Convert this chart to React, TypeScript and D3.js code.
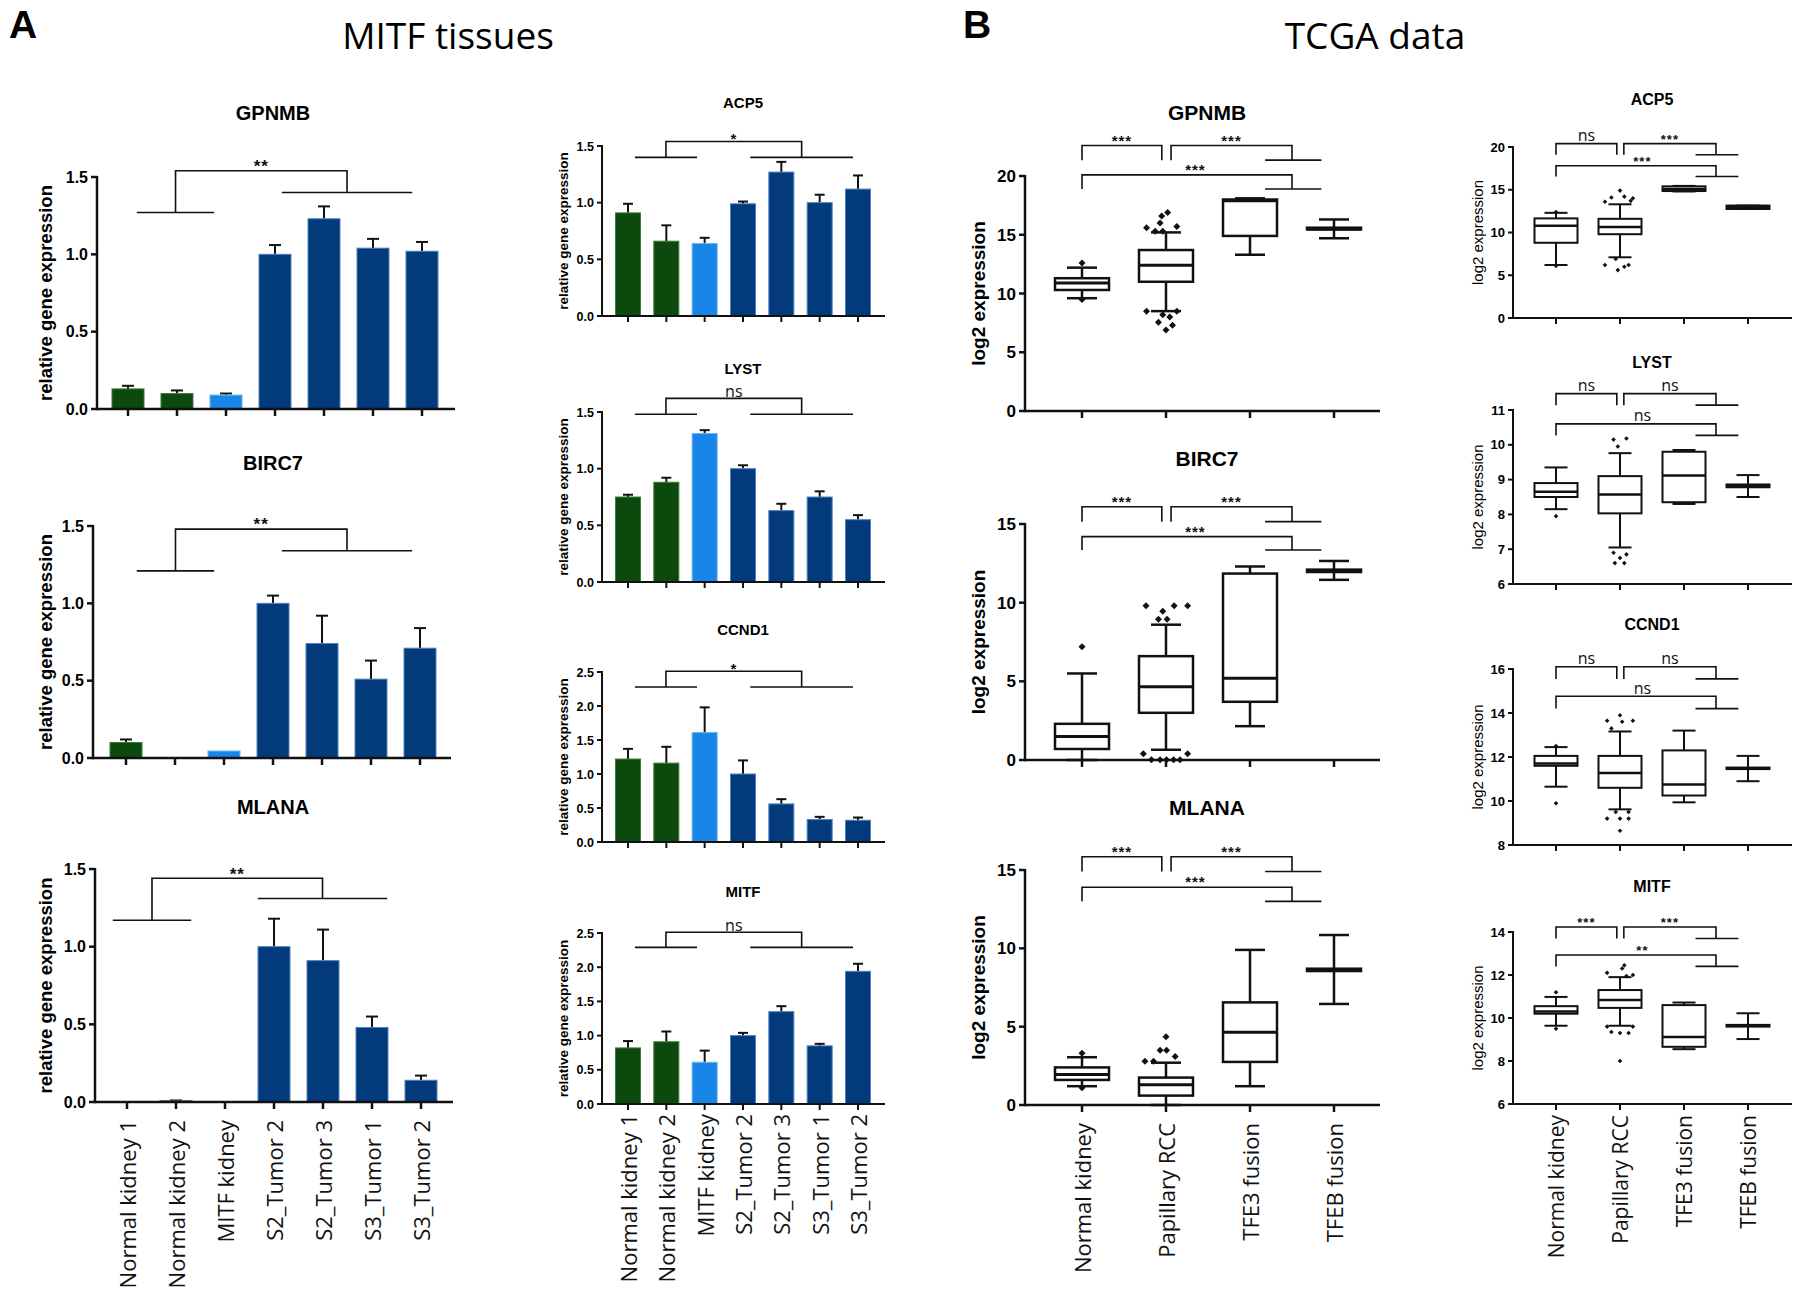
import React from "react";
import * as d3 from "d3";

// ---------- DATA ----------
const tissueSamples = ["Normal kidney 1", "Normal kidney 2", "MITF kidney", "S2_Tumor 2", "S2_Tumor 3", "S3_Tumor 1", "S3_Tumor 2"];
const sampleKind = ["normal", "normal", "mitf", "tumor", "tumor", "tumor", "tumor"];

const gpnmbMean = [0.13, 0.10, 0.09, 1.00, 1.23, 1.04, 1.02];
const gpnmbErr = [0.02, 0.02, 0.01, 0.06, 0.08, 0.06, 0.06];
const birc7Mean = [0.10, 0.0, 0.045, 1.00, 0.74, 0.51, 0.71];
const birc7Err = [0.02, 0.0, 0.0, 0.05, 0.18, 0.12, 0.13];
const mlanaMean = [0.003, 0.008, 0.003, 1.00, 0.91, 0.48, 0.14];
const mlanaErr = [0.0, 0.002, 0.0, 0.18, 0.20, 0.07, 0.03];
const acp5Mean = [0.91, 0.66, 0.64, 0.99, 1.27, 1.00, 1.12];
const acp5Err = [0.08, 0.14, 0.05, 0.02, 0.09, 0.07, 0.12];
const lystMean = [0.75, 0.88, 1.31, 1.00, 0.63, 0.75, 0.55];
const lystErr = [0.02, 0.04, 0.03, 0.03, 0.06, 0.05, 0.04];
const ccnd1Mean = [1.22, 1.16, 1.61, 1.00, 0.56, 0.33, 0.32];
const ccnd1Err = [0.15, 0.24, 0.37, 0.20, 0.07, 0.04, 0.04];
const mitfMean = [0.82, 0.91, 0.61, 1.00, 1.35, 0.85, 1.94];
const mitfErr = [0.10, 0.15, 0.17, 0.04, 0.08, 0.03, 0.11];

// significance brackets for tissue bars (sample-index units, data-unit levels)
const gpnmbSig = { left: [0.18, 1.76], right: [3.14, 5.8], leftY: 1.27, rightY: 1.40, topY: 1.54, label: "**" };
const birc7Sig = { left: [0.22, 1.8], right: [3.18, 5.84], leftY: 1.21, rightY: 1.34, topY: 1.48, label: "**" };
const mlanaSig = { left: [-0.29, 1.31], right: [2.67, 5.31], leftY: 1.17, rightY: 1.31, topY: 1.44, label: "**" };
const acp5Sig = { left: [0.18, 1.8], right: [3.19, 5.87], leftY: 1.40, rightY: 1.40, topY: 1.54, label: "*" };
const lystSig = { left: [0.18, 1.8], right: [3.19, 5.87], leftY: 1.48, rightY: 1.48, topY: 1.62, label: "ns" };
const ccnd1Sig = { left: [0.18, 1.8], right: [3.19, 5.87], leftY: 2.28, rightY: 2.28, topY: 2.51, label: "*" };
const mitfSig = { left: [0.18, 1.8], right: [3.19, 5.87], leftY: 2.29, rightY: 2.29, topY: 2.51, label: "ns" };

const tcgaGroups = ["Normal kidney", "Papillary RCC", "TFE3 fusion", "TFEB fusion"];

// box stats: [whiskerLow, q1, median, q3, whiskerHigh]
const gpnmbBox = [[9.6, 10.3, 10.9, 11.3, 12.2], [8.5, 11.0, 12.4, 13.7, 15.2], [13.3, 14.9, 17.9, 18.0, 18.1], [14.7, 15.45, 15.5, 15.6, 16.3]];
const birc7Box = [[0.0, 0.7, 1.5, 2.3, 5.5], [0.65, 3.0, 4.65, 6.6, 8.6], [2.15, 3.7, 5.2, 11.85, 12.3], [11.45, 11.95, 12.03, 12.1, 12.65]];
const mlanaBox = [[1.2, 1.6, 1.95, 2.4, 3.05], [0.0, 0.6, 1.3, 1.75, 2.7], [1.2, 2.75, 4.65, 6.55, 9.9], [6.45, 8.55, 8.62, 8.7, 10.85]];
const acp5Box = [[6.2, 8.8, 10.8, 11.65, 12.3], [7.1, 9.8, 10.65, 11.6, 13.3], [14.8, 14.85, 15.1, 15.4, 15.45], [12.75, 12.75, 12.95, 13.15, 13.15]];
const lystBox = [[8.15, 8.5, 8.65, 8.9, 9.35], [7.05, 8.03, 8.57, 9.1, 9.76], [8.3, 8.35, 9.12, 9.8, 9.85], [8.5, 8.78, 8.82, 8.86, 9.13]];
const ccnd1Box = [[10.65, 11.6, 11.7, 12.05, 12.45], [9.62, 10.6, 11.27, 12.05, 13.16], [9.94, 10.25, 10.75, 12.3, 13.2], [10.9, 11.45, 11.48, 11.52, 12.05]];
const mitfBox = [[9.64, 10.2, 10.3, 10.55, 10.98], [9.64, 10.47, 10.84, 11.3, 11.9], [8.55, 8.66, 9.12, 10.6, 10.72], [9.02, 9.6, 9.64, 9.68, 10.22]];

// outliers: [groupIndex, value, horizontal spread as fraction of box width]
const gpnmbOut = [[0, 12.6, 0], [0, 9.5, 0], [1, 16.9, 0.03], [1, 16.6, -0.08], [1, 16.0, -0.11], [1, 15.6, -0.36], [1, 15.7, 0.2], [1, 15.3, -0.2], [1, 15.3, -0.06], [1, 8.5, -0.36], [1, 8.5, 0.2], [1, 8.2, -0.06], [1, 8.0, 0.07], [1, 7.55, -0.14], [1, 7.3, 0.12], [1, 6.9, 0]];
const birc7Out = [[0, 7.2, 0], [1, 9.8, -0.37], [1, 9.8, 0.15], [1, 9.8, 0.4], [1, 9.45, -0.06], [1, 8.95, -0.14], [1, 8.95, 0.02], [1, 0.4, -0.42], [1, 0.4, 0.4], [1, 0.02, -0.27], [1, 0.02, -0.11], [1, 0.02, 0.01], [1, 0.02, 0.14], [1, 0.02, 0.26]];
const mlanaOut = [[0, 3.3, 0], [0, 1.1, 0], [1, 2.8, -0.39], [1, 2.8, -0.23], [1, 3.1, 0.17], [1, 3.5, -0.11], [1, 3.5, 0.01], [1, 4.35, 0]];
const acp5Out = [[0, 12.4, 0], [0, 6.1, 0], [1, 14.9, 0], [1, 14.1, -0.2], [1, 14.2, 0.1], [1, 14.0, 0.3], [1, 13.6, -0.35], [1, 13.7, 0.25], [1, 6.9, -0.1], [1, 6.2, -0.35], [1, 6.2, 0.2], [1, 6.0, 0.1], [1, 5.6, -0.05]];
const lystOut = [[0, 7.95, 0], [1, 10.15, -0.15], [1, 10.18, 0.15], [1, 9.95, -0.05], [1, 6.9, -0.15], [1, 6.85, 0.15], [1, 6.75, 0], [1, 6.6, -0.12], [1, 6.6, 0.1]];
const ccnd1Out = [[0, 9.9, 0], [0, 12.5, 0], [1, 13.9, 0], [1, 13.65, -0.3], [1, 13.6, 0.05], [1, 13.65, 0.3], [1, 13.3, -0.2], [1, 9.5, -0.1], [1, 9.5, 0.2], [1, 9.2, -0.3], [1, 9.2, 0], [1, 9.2, 0.2], [1, 8.65, 0]];
const mitfOut = [[0, 11.2, 0], [0, 9.5, 0], [1, 12.45, 0.1], [1, 12.3, 0.05], [1, 12.1, -0.3], [1, 12.0, 0.3], [1, 11.95, 0.15], [1, 9.35, -0.2], [1, 9.3, 0], [1, 9.3, 0.2], [1, 9.6, -0.3], [1, 9.6, 0.3], [1, 8.0, 0]];

// TCGA brackets: [bracket1 top, bracket1 legs, bracket3 top, bracket3 legs] in data units
const gpnmbTcgaSig = { levels: [22.6, 21.35, 20.1, 18.9], labels: ["***", "***", "***"] };
const birc7TcgaSig = { levels: [16.1, 15.15, 14.2, 13.35], labels: ["***", "***", "***"] };
const mlanaTcgaSig = { levels: [15.85, 14.9, 13.9, 13.0], labels: ["***", "***", "***"] };
const acp5TcgaSig = { levels: [20.4, 19.1, 17.8, 16.55], labels: ["ns", "***", "***"] };
const lystTcgaSig = { levels: [11.47, 11.14, 10.6, 10.27], labels: ["ns", "ns", "ns"] };
const ccnd1TcgaSig = { levels: [16.1, 15.55, 14.76, 14.2], labels: ["ns", "ns", "ns"] };
const mitfTcgaSig = { levels: [14.23, 13.7, 12.93, 12.4], labels: ["***", "***", "**"] };
const tcgaBracketX = { b1L: 0, b1R: 0.95, b2L: 1.06, joint: 2.5, grpL: 2.18, grpR: 2.85, b3Label: 1.35 };

// ---------- STYLE ----------
const COLORS: Record<string, { fill: string; edge: string }> = {
  normal: { fill: "#0b4a0c", edge: "#3f7a3a" },
  mitf: { fill: "#1786e8", edge: "#6cb4f2" },
  tumor: { fill: "#033a7b", edge: "#4f82c2" },
};
const BOLD = "'Liberation Sans', Arial, sans-serif";
const HUMAN = "'Open Sans', 'Noto Sans', sans-serif";

type SigA = { left: number[]; right: number[]; leftY: number; rightY: number; topY: number; label: string };

function SigLabel({ text, x, lineY, gap, fs }: { text: string; x: number; lineY: number; gap: number; fs: number }) {
  const isStar = text.includes("*");
  const base = isStar ? lineY - gap + 0.55 * fs : lineY - gap + 0.27 * fs;
  return (
    <text x={x} y={base} textAnchor="middle" fontFamily={isStar ? BOLD : HUMAN} fontWeight={isStar ? 700 : 400}
      fontSize={fs} letterSpacing={isStar ? 1 : 0} fill="#111">{text}</text>
  );
}

function BarPanel(props: any) {
  const { title, means, errs, lay, yMax, yTicks, sig, st, showX } = props;
  const idx = d3.range(means.length);
  const x = d3.scalePoint<number>().domain(idx).range([lay.x0, lay.x6]);
  const y = d3.scaleLinear().domain([0, yMax]).range([lay.yBot, lay.yTop]);
  const step = x.step();
  const xi = (f: number) => lay.x0 + f * step;
  const s: SigA = sig;
  const midL = (s.left[0] + s.left[1]) / 2;
  const midR = (s.right[0] + s.right[1]) / 2;
  const fmt = d3.format(".1f");
  return (
    <g>
      <text x={lay.titleX} y={lay.titleY + 0.36 * st.title} textAnchor="middle" fontFamily={BOLD} fontWeight={700} fontSize={st.title}>{title}</text>
      {idx.map((i) => {
        const c = COLORS[sampleKind[i]];
        const top = y(means[i]);
        const h = lay.yBot - top;
        return (
          <g key={i}>
            {errs[i] > 0 && (
              <g stroke="#111" strokeWidth={st.err}>
                <line x1={x(i)} x2={x(i)} y1={top} y2={y(means[i] + errs[i])} />
                <line x1={x(i)! - st.cap / 2} x2={x(i)! + st.cap / 2} y1={y(means[i] + errs[i])} y2={y(means[i] + errs[i])} />
              </g>
            )}
            {h > 0.3 && (
              <rect x={x(i)! - st.barW / 2} y={top} width={st.barW} height={h} fill={c.fill} stroke={c.edge} strokeWidth={1} />
            )}
          </g>
        );
      })}
      <g stroke="#111" strokeWidth={st.axis} fill="none">
        <line x1={lay.axisX} x2={lay.axisX} y1={y(yMax) - 1} y2={lay.yBot + st.axis / 2} />
        <line x1={lay.axisX} x2={lay.xEnd} y1={lay.yBot} y2={lay.yBot} />
        {yTicks.map((t: number) => (
          <line key={t} x1={lay.axisX - st.tick} x2={lay.axisX} y1={y(t)} y2={y(t)} />
        ))}
        {idx.map((i) => (
          <line key={i} x1={x(i)} x2={x(i)} y1={lay.yBot} y2={lay.yBot + st.tick + 1} />
        ))}
      </g>
      {yTicks.map((t: number) => (
        <text key={t} x={lay.axisX - st.tick - 3} y={y(t) + 0.36 * st.tickFs} textAnchor="end" fontFamily={BOLD} fontWeight={700} fontSize={st.tickFs}>{fmt(t)}</text>
      ))}
      <text transform={`translate(${lay.ylabX},${(lay.yBot + lay.yTop) / 2}) rotate(-90)`} textAnchor="middle" dominantBaseline="central"
        fontFamily={BOLD} fontWeight={700} fontSize={st.ylab}>relative gene expression</text>
      <g stroke="#111" strokeWidth={st.br} fill="none">
        <path d={`M${xi(s.left[0])},${y(s.leftY)}H${xi(s.left[1])}M${xi(s.right[0])},${y(s.rightY)}H${xi(s.right[1])}M${xi(midL)},${y(s.leftY)}V${y(s.topY)}H${xi(midR)}V${y(s.rightY)}`} />
      </g>
      <SigLabel text={s.label} x={xi((midL + midR) / 2)} lineY={y(s.topY)} gap={st.sigGap} fs={s.label.includes("*") ? st.starFs : st.nsFs} />
      {showX && tissueSamples.map((n, i) => (
        <text key={n} transform={`translate(${x(i)},${lay.yBot + st.xlabGap}) rotate(-90)`} textAnchor="end" dominantBaseline="central"
          fontFamily={HUMAN} fontSize={st.xlab} fill="#111">{n}</text>
      ))}
    </g>
  );
}

function BoxPanel(props: any) {
  const { title, stats, outliers, lay, domain, yTicks, sig, st, showX } = props;
  const idx = d3.range(tcgaGroups.length);
  const x = d3.scalePoint<number>().domain(idx).range([lay.x0, lay.x3]);
  const y = d3.scaleLinear().domain(domain).range([lay.yBot, lay.yTop]);
  const step = x.step();
  const xi = (f: number) => lay.x0 + f * step;
  const L = sig.levels;
  const B = tcgaBracketX;
  const dia = (cx: number, cy: number, r: number) => `M${cx},${cy - r}L${cx + r},${cy}L${cx},${cy + r}L${cx - r},${cy}Z`;
  return (
    <g>
      <text x={lay.titleX} y={lay.titleY + 0.36 * st.title} textAnchor="middle" fontFamily={BOLD} fontWeight={700} fontSize={st.title}>{title}</text>
      {stats.map((b: number[], i: number) => {
        const cx = x(i)!;
        const [lo, q1, md, q3, hi] = b;
        return (
          <g key={i} stroke="#111" fill="none">
            <line x1={cx} x2={cx} y1={y(lo)} y2={y(q1)} strokeWidth={st.box} />
            <line x1={cx} x2={cx} y1={y(q3)} y2={y(hi)} strokeWidth={st.box} />
            <line x1={cx - st.cap / 2} x2={cx + st.cap / 2} y1={y(lo)} y2={y(lo)} strokeWidth={st.box} />
            <line x1={cx - st.cap / 2} x2={cx + st.cap / 2} y1={y(hi)} y2={y(hi)} strokeWidth={st.box} />
            <rect x={cx - st.boxW / 2} y={y(q3)} width={st.boxW} height={Math.max(0, y(q1) - y(q3))} fill="#fff" strokeWidth={st.box} />
            <line x1={cx - st.boxW / 2} x2={cx + st.boxW / 2} y1={y(md)} y2={y(md)} strokeWidth={st.med} />
          </g>
        );
      })}
      {outliers.map((o: number[], k: number) => (
        <path key={k} d={dia(x(o[0])! + o[2] * st.boxW, y(o[1]), st.dot)} fill="#111" />
      ))}
      <g stroke="#111" strokeWidth={st.axis} fill="none">
        <line x1={lay.axisX} x2={lay.axisX} y1={y(domain[1]) - 1} y2={lay.yBot + st.axis / 2} />
        <line x1={lay.axisX} x2={lay.xEnd} y1={lay.yBot} y2={lay.yBot} />
        {yTicks.map((t: number) => (
          <line key={t} x1={lay.axisX - st.tick} x2={lay.axisX} y1={y(t)} y2={y(t)} />
        ))}
        {idx.map((i) => (
          <line key={i} x1={x(i)} x2={x(i)} y1={lay.yBot} y2={lay.yBot + st.tick + 1} />
        ))}
      </g>
      {yTicks.map((t: number) => (
        <text key={t} x={lay.axisX - st.tick - 3} y={y(t) + 0.36 * st.tickFs} textAnchor="end" fontFamily={BOLD} fontWeight={700} fontSize={st.tickFs}>{t}</text>
      ))}
      <text transform={`translate(${lay.ylabX},${(lay.yBot + lay.yTop) / 2}) rotate(-90)`} textAnchor="middle" dominantBaseline="central"
        fontFamily={BOLD} fontWeight={st.ylabW} fontSize={st.ylab}>log2 expression</text>
      <g stroke="#111" strokeWidth={st.br} fill="none">
        <path d={`M${xi(B.b1L)},${y(L[1])}V${y(L[0])}H${xi(B.b1R)}V${y(L[1])}`} />
        <path d={`M${xi(B.b2L)},${y(L[1])}V${y(L[0])}H${xi(B.joint)}V${y(L[1])}M${xi(B.grpL)},${y(L[1])}H${xi(B.grpR)}`} />
        <path d={`M${xi(B.b1L)},${y(L[3])}V${y(L[2])}H${xi(B.joint)}V${y(L[3])}M${xi(B.grpL)},${y(L[3])}H${xi(B.grpR)}`} />
      </g>
      {[
        [sig.labels[0], (B.b1L + B.b1R) / 2, L[0]],
        [sig.labels[1], (B.b2L + B.joint) / 2, L[0]],
        [sig.labels[2], B.b3Label, L[2]],
      ].map(([t, f, lv]: any, k) => (
        <SigLabel key={k} text={t} x={xi(f)} lineY={y(lv)} gap={st.sigGap} fs={t.includes("*") ? st.starFs : st.nsFs} />
      ))}
      {showX && tcgaGroups.map((n, i) => (
        <text key={n} transform={`translate(${x(i)},${lay.yBot + st.xlabGap}) rotate(-90)`} textAnchor="end" dominantBaseline="central"
          fontFamily={HUMAN} fontSize={st.xlab} fill="#111">{n}</text>
      ))}
    </g>
  );
}

const stALeft = { title: 20, tickFs: 16, ylab: 18.5, axis: 2.5, tick: 6, barW: 32, cap: 12, err: 2, br: 1.6, sigGap: 8, starFs: 17, nsFs: 17, xlab: 22, xlabGap: 18 };
const stARight = { title: 15, tickFs: 12.5, ylab: 13.5, axis: 2, tick: 5, barW: 25, cap: 10, err: 2, br: 1.6, sigGap: 6, starFs: 15, nsFs: 16, xlab: 22, xlabGap: 10 };
const stBLeft = { title: 21, tickFs: 17, ylab: 19, ylabW: 700, axis: 2.5, tick: 6, boxW: 54, cap: 30, box: 2.5, med: 3, dot: 3.5, br: 1.6, sigGap: 8, starFs: 15, nsFs: 16, xlab: 22, xlabGap: 18 };
const stBRight = { title: 16, tickFs: 13, ylab: 15, ylabW: 400, axis: 2, tick: 5, boxW: 43, cap: 23, box: 2, med: 2.5, dot: 2.3, br: 1.6, sigGap: 7, starFs: 13, nsFs: 16, xlab: 21, xlabGap: 11 };

const layAL = (axisX: number, x0: number, yBot: number, yTop: number, titleY: number) => ({ axisX, x0, x6: x0 + 294, xEnd: axisX + 358, yBot, yTop, titleY, titleX: 273, ylabX: 45 });
const layAR = (yBot: number, yTop: number, titleY: number) => ({ axisX: 602, x0: 628, x6: 858, xEnd: 885, yBot, yTop, titleY, titleX: 743, ylabX: 563 });
const layBL = (yBot: number, yTop: number, titleY: number) => ({ axisX: 1025, x0: 1082, x3: 1334, xEnd: 1380, yBot, yTop, titleY, titleX: 1207, ylabX: 978 });
const layBR = (yBot: number, yTop: number, titleY: number) => ({ axisX: 1513, x0: 1556, x3: 1748, xEnd: 1792, yBot, yTop, titleY, titleX: 1652, ylabX: 1477 });

export default function App() {
  return (
    <svg width={1800} height={1296} viewBox="0 0 1800 1296" style={{ display: "block", position: "absolute", left: 0, top: 0, background: "#fff" }}>
      <rect width={1800} height={1296} fill="#fff" />
      <text x={23} y={38} textAnchor="middle" fontFamily={BOLD} fontWeight={700} fontSize={39}>A</text>
      <text x={977} y={38} textAnchor="middle" fontFamily={BOLD} fontWeight={700} fontSize={39}>B</text>
      <text x={448} y={49} textAnchor="middle" fontFamily={HUMAN} fontSize={37}>MITF tissues</text>
      <text x={1375} y={49} textAnchor="middle" fontFamily={HUMAN} fontSize={37}>TCGA data</text>

      <BarPanel title="GPNMB" means={gpnmbMean} errs={gpnmbErr} lay={layAL(97, 128, 409, 177, 113)} yMax={1.5} yTicks={[0, 0.5, 1, 1.5]} sig={gpnmbSig} st={stALeft} />
      <BarPanel title="BIRC7" means={birc7Mean} errs={birc7Err} lay={layAL(93, 126, 758, 526, 463)} yMax={1.5} yTicks={[0, 0.5, 1, 1.5]} sig={birc7Sig} st={stALeft} />
      <BarPanel title="MLANA" means={mlanaMean} errs={mlanaErr} lay={layAL(95, 127, 1102, 869, 807)} yMax={1.5} yTicks={[0, 0.5, 1, 1.5]} sig={mlanaSig} st={stALeft} showX />

      <BarPanel title="ACP5" means={acp5Mean} errs={acp5Err} lay={layAR(316, 146, 103)} yMax={1.5} yTicks={[0, 0.5, 1, 1.5]} sig={acp5Sig} st={stARight} />
      <BarPanel title="LYST" means={lystMean} errs={lystErr} lay={layAR(582, 412, 369)} yMax={1.5} yTicks={[0, 0.5, 1, 1.5]} sig={lystSig} st={stARight} />
      <BarPanel title="CCND1" means={ccnd1Mean} errs={ccnd1Err} lay={layAR(842, 672, 630)} yMax={2.5} yTicks={[0, 0.5, 1, 1.5, 2, 2.5]} sig={ccnd1Sig} st={stARight} />
      <BarPanel title="MITF" means={mitfMean} errs={mitfErr} lay={layAR(1104, 933, 892)} yMax={2.5} yTicks={[0, 0.5, 1, 1.5, 2, 2.5]} sig={mitfSig} st={stARight} showX />

      <BoxPanel title="GPNMB" stats={gpnmbBox} outliers={gpnmbOut} lay={layBL(411, 176, 112)} domain={[0, 20]} yTicks={[0, 5, 10, 15, 20]} sig={gpnmbTcgaSig} st={stBLeft} />
      <BoxPanel title="BIRC7" stats={birc7Box} outliers={birc7Out} lay={layBL(760, 524, 458)} domain={[0, 15]} yTicks={[0, 5, 10, 15]} sig={birc7TcgaSig} st={stBLeft} />
      <BoxPanel title="MLANA" stats={mlanaBox} outliers={mlanaOut} lay={layBL(1105, 870, 807)} domain={[0, 15]} yTicks={[0, 5, 10, 15]} sig={mlanaTcgaSig} st={stBLeft} showX />

      <BoxPanel title="ACP5" stats={acp5Box} outliers={acp5Out} lay={layBR(318, 147, 99)} domain={[0, 20]} yTicks={[0, 5, 10, 15, 20]} sig={acp5TcgaSig} st={stBRight} />
      <BoxPanel title="LYST" stats={lystBox} outliers={lystOut} lay={layBR(584, 410, 362)} domain={[6, 11]} yTicks={[6, 7, 8, 9, 10, 11]} sig={lystTcgaSig} st={stBRight} />
      <BoxPanel title="CCND1" stats={ccnd1Box} outliers={ccnd1Out} lay={layBR(845, 669, 624)} domain={[8, 16]} yTicks={[8, 10, 12, 14, 16]} sig={ccnd1TcgaSig} st={stBRight} />
      <BoxPanel title="MITF" stats={mitfBox} outliers={mitfOut} lay={layBR(1104, 932, 886)} domain={[6, 14]} yTicks={[6, 8, 10, 12, 14]} sig={mitfTcgaSig} st={stBRight} showX />
    </svg>
  );
}
